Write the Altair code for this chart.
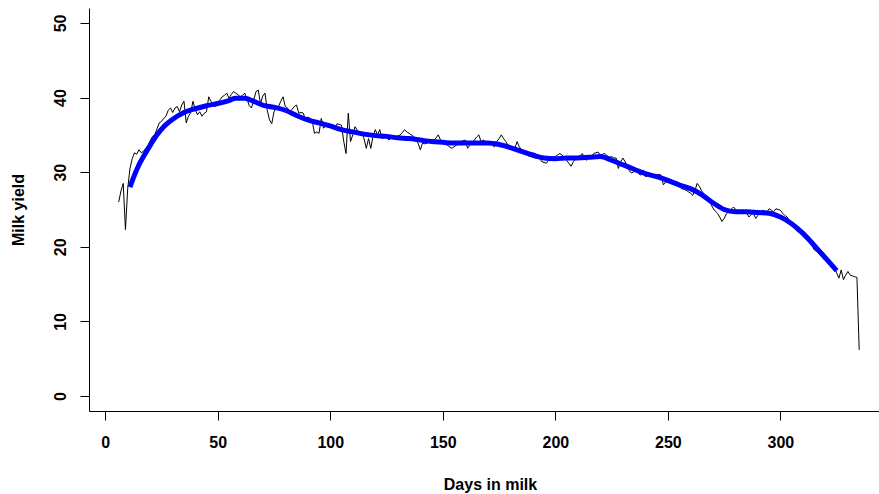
import altair as alt
import pandas as pd

# Raw daily milk yield (days 6..335)
raw_days = list(range(6, 336))
raw_yield = [
    26.0, 27.5, 28.5, 22.3, 27.8, 30.5, 31.8, 32.6, 32.4, 33.0,
    32.6, 32.8, 33.2, 33.6, 34.2, 34.8, 35.0, 35.8, 36.6, 36.8,
    37.2, 37.5, 38.3, 38.6, 38.0, 38.6, 38.8, 38.1, 39.0, 39.5,
    36.6, 37.5, 38.0, 39.5, 38.4, 37.7, 38.1, 37.5, 37.9, 38.1,
    40.1, 39.5, 39.0, 38.8, 39.4, 39.7, 40.1, 40.3, 40.6, 39.9,
    40.4, 40.8, 40.6, 40.4, 40.1, 40.3, 40.6, 39.8, 38.9, 38.6,
    39.7, 40.8, 41.0, 39.2, 40.2, 40.6, 38.3, 37.0, 36.5, 38.1,
    38.6, 38.8, 39.5, 40.1, 38.8, 38.6, 38.1, 38.4, 38.8, 39.0,
    37.9, 38.0, 37.9, 37.0, 37.4, 37.2, 36.8, 35.2, 35.4, 35.2,
    37.2, 35.9, 36.2, 36.5, 36.1, 35.9, 35.7, 36.5, 36.4, 36.3,
    34.1, 32.5, 37.9, 34.1, 35.0, 36.1, 35.6, 35.2, 35.4, 34.5,
    33.2, 34.5, 33.2, 34.8, 35.7, 35.0, 35.7, 34.5, 34.7, 34.8,
    34.3, 34.6, 34.8, 34.6, 34.8, 35.0, 35.3, 35.7, 35.4, 35.2,
    35.0, 34.8, 34.4, 33.9, 33.0, 33.9, 33.8, 33.9, 34.0, 34.1,
    34.3, 34.6, 35.0, 34.3, 34.1, 34.0, 33.6, 33.4, 33.2, 33.4,
    33.6, 33.8, 34.1, 34.2, 34.3, 33.2, 33.6, 33.9, 34.3, 34.7,
    35.0, 34.1, 34.3, 34.1, 34.0, 33.9, 33.6, 33.4, 34.1, 34.5,
    35.0, 34.5, 34.1, 33.6, 33.4, 33.3, 33.2, 34.1, 33.4, 33.0,
    32.5, 32.4, 32.2, 32.1, 32.0, 31.9, 31.9, 31.9, 31.4, 31.3,
    31.2, 31.6, 31.9, 32.0, 32.1, 32.3, 32.5, 32.3, 31.9, 31.6,
    31.2, 30.8, 31.4, 31.8, 32.1, 32.2, 32.5, 31.8, 31.6, 31.9,
    32.1, 32.5, 32.6, 32.7, 32.3, 32.4, 32.5, 32.2, 32.0, 32.1,
    31.9, 31.9, 30.5, 31.4, 31.9, 31.4, 30.8, 30.1, 29.9, 30.1,
    30.3, 29.8, 29.6, 30.3, 29.4, 29.5, 29.6, 29.4, 29.5, 29.6,
    29.7, 29.6, 28.3, 28.7, 28.7, 28.7, 28.6, 28.5, 28.4, 28.1,
    27.8, 27.7, 27.6, 27.4, 27.2, 26.9, 27.5, 28.5, 28.1, 27.5,
    27.1, 26.7, 26.2, 25.8, 25.2, 24.8, 24.5, 24.0, 23.4, 23.8,
    24.4, 24.7, 25.0, 25.3, 25.1, 24.7, 24.8, 24.9, 24.7, 24.5,
    24.0, 24.3, 24.5, 23.8, 24.2, 24.5, 24.9, 24.8, 24.7, 25.1,
    24.9, 24.7, 25.1, 25.0, 24.9, 24.5, 24.2, 24.0, 23.4, 23.0,
    22.7, 22.2, 22.0, 22.1, 22.2, 21.6, 21.4, 20.7, 20.2, 19.6,
    19.4, 19.1, 18.9, 18.5, 18.2, 18.0, 17.8, 17.5, 17.3, 16.5,
    15.8, 16.9, 15.6, 16.2, 16.7, 16.2, 16.1, 16.0, 15.9, 6.2,
]

# Smoothed lactation curve
smooth_days = [11, 13, 15, 17, 20, 23, 26, 30, 35, 40, 45, 50, 55, 58, 62, 66, 70,
               75, 80, 85, 90, 95, 100, 105, 110, 115, 120, 125, 130, 135, 140,
               145, 150, 155, 160, 165, 170, 175, 180, 185, 190, 195, 200, 205,
               210, 215, 220, 225, 230, 235, 240, 245, 250, 255, 260, 265, 270,
               275, 280, 285, 290, 295, 300, 305, 310, 315, 320, 325]
smooth_yield = [28.0, 29.6, 31.0, 32.1, 33.6, 35.0, 36.1, 37.1, 38.0, 38.5, 38.9,
                39.2, 39.6, 39.9, 39.9, 39.5, 39.0, 38.7, 38.3, 37.6, 37.0, 36.6,
                36.2, 35.7, 35.4, 35.1, 34.9, 34.8, 34.6, 34.5, 34.3, 34.1, 34.0,
                33.9, 33.9, 33.9, 33.9, 33.7, 33.3, 32.8, 32.3, 31.9, 31.8, 31.9,
                31.9, 32.0, 32.1, 31.6, 31.0, 30.4, 29.8, 29.4, 28.9, 28.3, 27.8,
                27.0, 25.9, 25.0, 24.7, 24.7, 24.6, 24.5, 24.0, 23.1, 21.8, 20.2,
                18.5, 16.8]

x_ticks = [0, 50, 100, 150, 200, 250, 300]
y_ticks = [0, 10, 20, 30, 40, 50]

raw_df = pd.DataFrame({"day": raw_days, "yield": raw_yield})
smooth_df = pd.DataFrame({"day": smooth_days, "yield": smooth_yield})

FONT = "Liberation Sans"

x_scale = alt.Scale(domain=[-7.2, 343.8], nice=False, zero=False)
y_scale = alt.Scale(domain=[-2, 52], nice=False, zero=False)

x_axis = alt.Axis(
    values=x_ticks, title="Days in milk", grid=False,
    domainColor="black", domainWidth=1, tickColor="black", tickSize=9,
    labelFont=FONT, labelFontSize=16, labelFontWeight="bold", labelColor="black",
    labelPadding=14, labelFlush=False,
    titleFont=FONT, titleFontSize=16, titleFontWeight="bold", titleColor="black",
    titleBaseline="middle", titleY=73, titleX=401,
)
y_axis = alt.Axis(
    values=y_ticks, title="Milk yield", grid=False,
    domainColor="black", domainWidth=1, tickColor="black", tickSize=9,
    labelFont=FONT, labelFontSize=16, labelFontWeight="bold", labelColor="black",
    labelAngle=270, labelAlign="center", labelBaseline="alphabetic",
    labelPadding=15, labelFlush=False,
    titleFont=FONT, titleFontSize=16, titleFontWeight="bold", titleColor="black",
    titleAngle=270, titleBaseline="middle", titleX=-71,
)

raw = alt.Chart(raw_df).mark_line(color="black", strokeWidth=1).encode(
    x=alt.X("day:Q", scale=x_scale, axis=x_axis),
    y=alt.Y("yield:Q", scale=y_scale, axis=y_axis),
)
smooth = alt.Chart(smooth_df).mark_line(
    color="#0000FF", strokeWidth=5, interpolate="monotone"
).encode(
    x=alt.X("day:Q", scale=x_scale),
    y=alt.Y("yield:Q", scale=y_scale),
)

chart = (
    alt.layer(raw, smooth)
    .properties(
        width=790, height=403,
        autosize=alt.AutoSizeParams(type="none"),
        padding={"left": 89, "top": 8, "right": 0, "bottom": 83},
        background="white",
    )
    .configure_view(stroke=None)
)

chart.save("out.html", embed_options={"renderer": "svg", "actions": False})
